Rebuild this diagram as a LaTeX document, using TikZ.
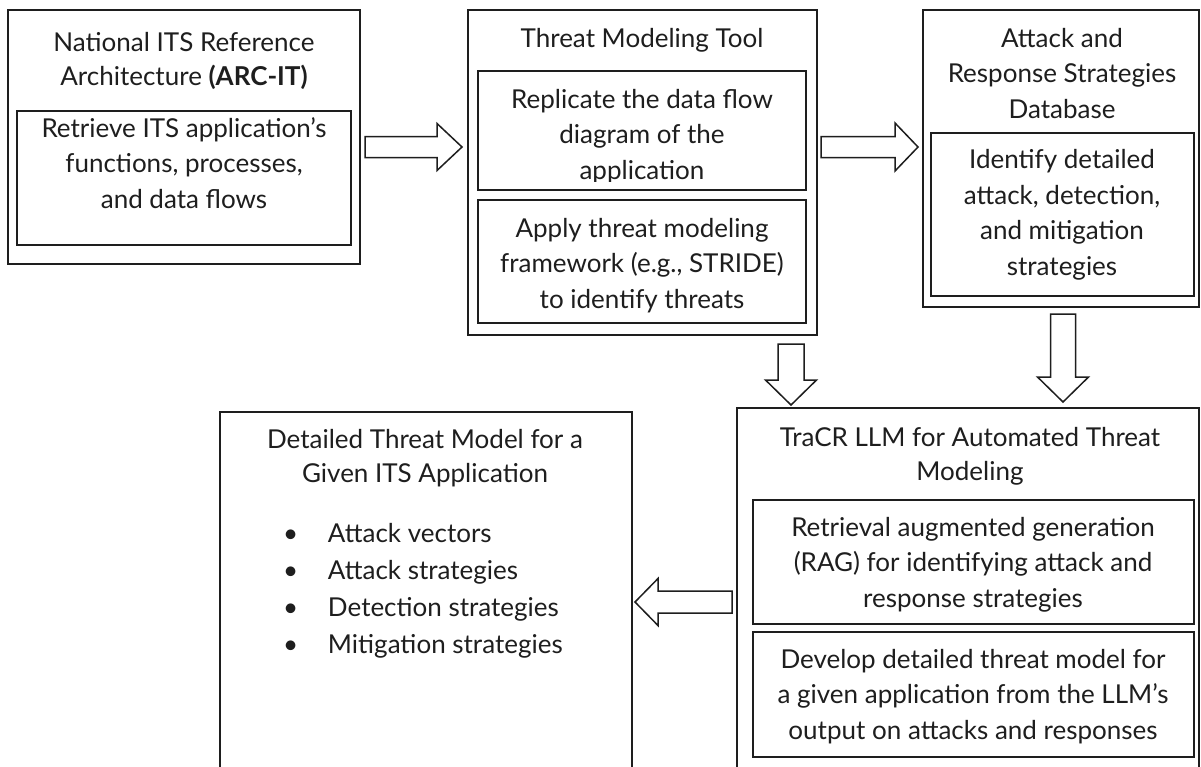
\documentclass[tikz,border=0pt]{standalone}
\usepackage{fontspec}
\setmainfont{Lato}
\usetikzlibrary{calc}
\definecolor{ink}{HTML}{1E1E1E}
\tikzset{
  box/.style={draw=ink, line width=1.8pt, inner sep=0pt, outer sep=0pt, anchor=north west},
  txt/.style={inner sep=0pt, outer sep=0pt, align=center, text=ink, anchor=base},
  bodyfont/.style={font=\fontsize{26}{35.5}\selectfont},
  titlefont/.style={font=\fontsize{26}{33.5}\selectfont},
  blockarrow/.style n args={3}{draw=ink, line width=1.5pt, fill=white, line join=miter,
    to path={
      ($(\tikztostart)!#1!90:(\tikztotarget)$) --
      ($(\tikztotarget)!#3!(\tikztostart)!#1!90:(\tikztotarget)$) --
      ($(\tikztotarget)!#3!(\tikztostart)!#2!90:(\tikztotarget)$) --
      (\tikztotarget) --
      ($(\tikztotarget)!#3!(\tikztostart)!#2!-90:(\tikztotarget)$) --
      ($(\tikztotarget)!#3!(\tikztostart)!#1!-90:(\tikztotarget)$) --
      ($(\tikztostart)!#1!-90:(\tikztotarget)$) -- cycle}}
}
\begin{document}
\begin{tikzpicture}[x=1pt, y=-1pt]
\useasboundingbox (0,0) rectangle (1201,766);
\fill[white] (0,0) rectangle (1201,766);

% --- boxes ---
\node[box, minimum width=352pt, minimum height=254pt] (b1) at (8,10) {};
\node[box, minimum width=334pt, minimum height=134pt] (b1i) at (17,111) {};
\node[box, minimum width=349pt, minimum height=325pt] (b2) at (468,10) {};
\node[box, minimum width=328pt, minimum height=119pt] (b2a) at (478,71) {};
\node[box, minimum width=328pt, minimum height=123pt] (b2b) at (478,200) {};
\node[box, minimum width=276pt, minimum height=297pt] (b3) at (923,10) {};
\node[box, minimum width=263pt, minimum height=163pt] (b3i) at (931,133) {};
\node[box, minimum width=462pt, minimum height=380pt] (b4) at (737,408) {};
\node[box, minimum width=441pt, minimum height=124pt] (b4a) at (753,500) {};
\node[box, minimum width=441pt, minimum height=125pt] (b4b) at (753,632) {};
\node[box, minimum width=412pt, minimum height=380pt] (b5) at (220,412) {};

% --- texts (anchored at the baseline of their last line) ---
\node[txt, titlefont] (t1) at (184,85) {National ITS Reference\\Architecture \textbf{(ARC-IT)}};
\node[txt, bodyfont] (t1i) at (184,208) {Retrieve ITS application’s\\functions, processes,\\and data flows};
\node[txt, bodyfont] (t2) at (642,47) {Threat Modeling Tool};
\begin{scope}
  \clip (478,71) rectangle (806,181);
  \node[txt, bodyfont] (t2a) at (642,179) {Replicate the data flow\\diagram of the\\application};
\end{scope}
\node[txt, bodyfont] (t2b) at (642,308) {Apply threat modeling\\framework (e.g., STRIDE)\\to identify threats};
\node[txt, bodyfont] (t3) at (1062,118) {Attack and\\Response Strategies\\Database};
\node[txt, bodyfont] (t3i) at (1062,275) {Identify detailed\\attack, detection,\\and mitigation\\strategies};
\node[txt, titlefont] (t4) at (970,480) {TraCR LLM for Automated Threat\\Modeling};
\node[txt, bodyfont] (t4a) at (973,607) {Retrieval augmented generation\\(RAG) for identifying attack and\\response strategies};
\node[txt, bodyfont] (t4b) at (973,739) {Develop detailed threat model for\\a given application from the LLM’s\\output on attacks and responses};
\node[txt, titlefont] (t5) at (425,482) {Detailed Threat Model for a\\Given ITS Application};
\node[txt, align=left, anchor=base west, font=\fontsize{26}{37}\selectfont] (t5l) at (283,653)
  {\makebox[45pt][l]{•}Attack vectors\\\makebox[45pt][l]{•}Attack strategies\\\makebox[45pt][l]{•}Detection strategies\\\makebox[45pt][l]{•}Mitigation strategies};

% --- block arrows ---
\coordinate (a1s) at ($(b1.east |- 0,147)+(5,0)$);
\coordinate (a1t) at ($(b2.west |- 0,147)+(-6,0)$);
\coordinate (a2s) at ($(b2.east |- 0,147)+(4,0)$);
\coordinate (a2t) at ($(b3.west |- 0,147)+(-5,0)$);
\coordinate (a3s) at ($(b2.south -| 791,0)+(0,9)$);
\coordinate (a3t) at ($(b4.north -| 791,0)+(0,-3)$);
\coordinate (a4s) at ($(b3.south -| 1063,0)+(0,7)$);
\coordinate (a4t) at ($(b4.north -| 1063,0)+(0,-6)$);
\coordinate (a5s) at ($(b4.west |- 0,602)+(-5,0)$);
\coordinate (a5t) at ($(b5.east |- 0,602)+(3,0)$);
\draw[blockarrow={10.5pt}{23.5pt}{25pt}] (a1s) to (a1t);
\draw[blockarrow={10.5pt}{24pt}{23pt}] (a2s) to (a2t);
\draw[blockarrow={13pt}{25.5pt}{25pt}] (a3s) to (a3t);
\draw[blockarrow={12.5pt}{25.5pt}{25pt}] (a4s) to (a4t);
\draw[blockarrow={11pt}{23.5pt}{23pt}] (a5s) to (a5t);
\end{tikzpicture}
\end{document}
